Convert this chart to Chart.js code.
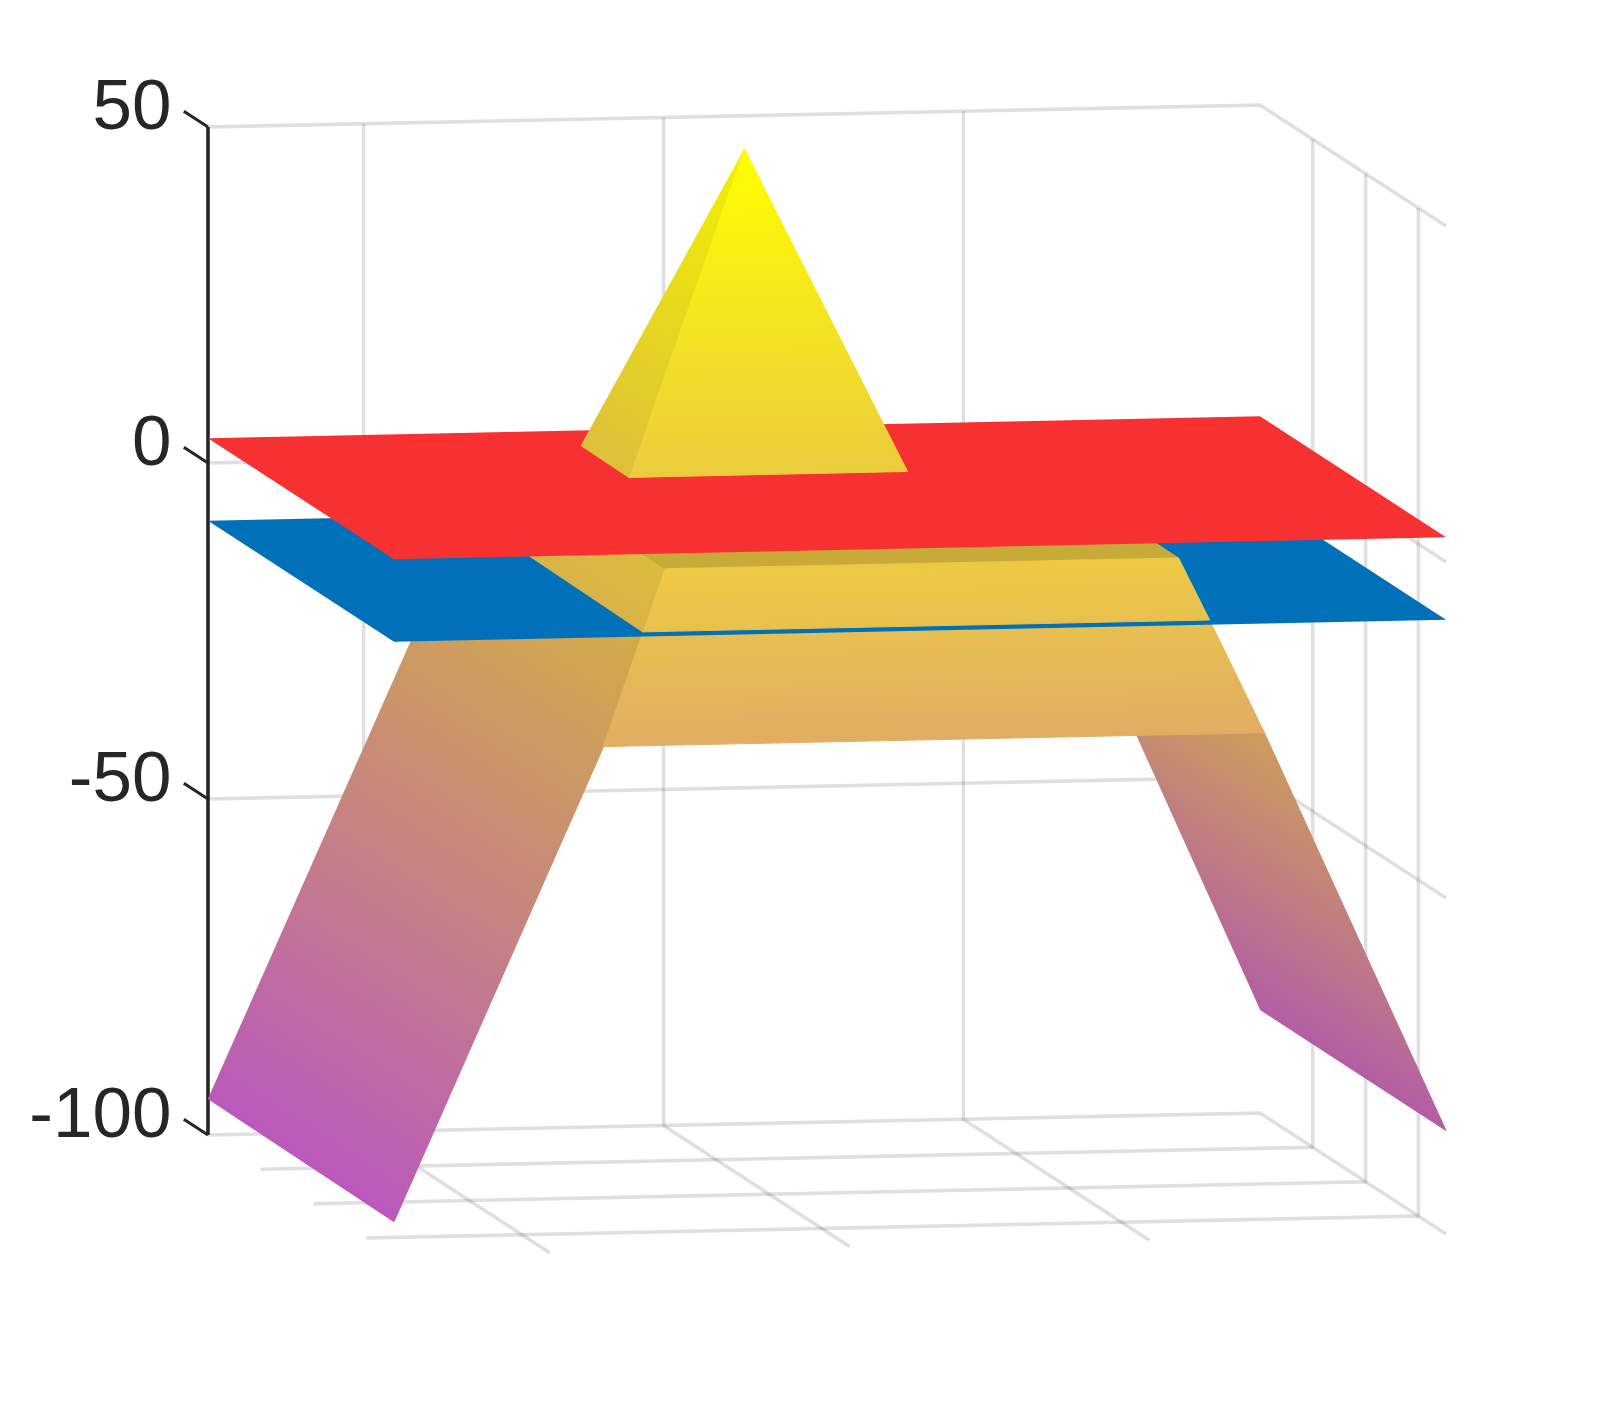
<!DOCTYPE html>
<html>
<head>
<meta charset="utf-8">
<title>surface</title>
<script src="https://cdn.jsdelivr.net/npm/chart.js@4/dist/chart.umd.js"></script>
<style>
  html, body { margin: 0; padding: 0; background: #fff; }
  canvas { display: block; }
</style>
</head>
<body>
<canvas id="chart" width="1598" height="1410"></canvas>
<script>
// tick values. u runs along the wide axis, v along the depth axis, both 0-100
const zTicks = [-100, -50, 0, 50];
const uTicks = [14.8, 43.3, 71.8];
const vTicks = [28.3, 56.8, 85.1];

// surface faces, each vertex is [u, v, z]
const legRight = [[100, 0, -84.6], [100, 100, -84.6], [82.6, 100.8, -24.7], [82.9, 0, -24.7]];
const legLeft = [[0, 0, -94.6], [0, 100, -94.9], [24.55, 100, -8.6], [24.55, 0, -8.6]];
const bandLower = [[24.3, 96.2, -8.6], [78.2, 96.2, -8.6], [82.6, 100.8, -24.7], [19.7, 100.8, -24.7]];
const bluePlane = [[0, 0, -8.6], [100, 0, -8.6], [100, 100, -8.6], [0, 100, -8.6]];
const bandSide = [[24.6, 34, -8.6], [24.3, 96.2, -8.6], [26.84, 93.66, 0.25], [26.84, 34, 0.25]];
const bandTop = [[26.84, 30, 0.25], [75.7, 30, 0.25], [75.7, 93.66, 0.25], [26.84, 93.66, 0.25]];
const bandUpper = [[24.3, 96.2, -8.6], [78.2, 96.2, -8.6], [75.7, 93.66, 0.25], [26.84, 93.66, 0.25]];
const redPlane = [[0, 0, 3.7], [100, 0, 3.7], [100, 100, 3.7], [0, 100, 3.7]];
const pyramidLeft = [[33.3, 12.1, 3.7], [33.2, 38.5, 3.7], [46.5, 25.3, 49.8]];
const pyramidFront = [[33.2, 38.5, 3.7], [59.7, 38.4, 3.7], [46.5, 25.3, 49.8]];

// colour map ends, z -> rgb
const colorZ = [-94.6, 50];
const colorLow = [188, 90, 190];
const colorHigh = [255, 255, 0];

const GRID = 'rgba(38,38,38,0.15)';
const INK = '#262626';

// view of the box: oblique, shear of v into x and of u,v into z units
const SHEAR_X = 1.86 / 10.52;
const SHEAR_U = 0.22 / 6.72;
const SHEAR_V = -1.21 / 6.72;

function project(p) {
  return { x: p[0] + SHEAR_X * p[1], y: p[2] + SHEAR_U * p[0] + SHEAR_V * p[1] };
}

function colorAt(z, shade) {
  const t = Math.max(0, Math.min(1, (z - colorZ[0]) / (colorZ[1] - colorZ[0])));
  const c = colorLow.map((low, i) => Math.min(255, Math.round((low + (colorHigh[i] - low) * t) * shade)));
  return 'rgb(' + c.join(',') + ')';
}

// gradient along the direction z grows on screen, so colour follows height
function faceGradient(chart, face, shadeLow, shadeHigh) {
  const sx = chart.scales.x, sy = chart.scales.y;
  if (!chart.chartArea) return colorAt(face[0][2], shadeLow);
  const pts = face.map(p => {
    const q = project(p);
    return { x: sx.getPixelForValue(q.x), y: sy.getPixelForValue(q.y), z: p[2] };
  });
  const [a, b, c] = pts;
  const det = (b.x - a.x) * (c.y - a.y) - (c.x - a.x) * (b.y - a.y);
  const gx = ((b.z - a.z) * (c.y - a.y) - (c.z - a.z) * (b.y - a.y)) / det;
  const gy = ((b.x - a.x) * (c.z - a.z) - (c.x - a.x) * (b.z - a.z)) / det;
  const len = gx * gx + gy * gy;
  if (len < 1e-9) return colorAt(a.z, shadeLow);
  const lo = pts.reduce((m, p) => (p.z < m.z ? p : m));
  const hi = pts.reduce((m, p) => (p.z > m.z ? p : m));
  const dz = (hi.z - lo.z) / len;
  const g = chart.ctx.createLinearGradient(lo.x, lo.y, lo.x + gx * dz, lo.y + gy * dz);
  g.addColorStop(0, colorAt(lo.z, shadeLow));
  g.addColorStop(1, colorAt(hi.z, shadeHigh));
  return g;
}

function lineSet(points, color, width) {
  return {
    data: points.map(project),
    showLine: true,
    fill: false,
    borderColor: color,
    borderWidth: width,
    pointRadius: 0,
    tension: 0,
    clip: false
  };
}

function faceSet(points, background) {
  return {
    data: points.map(project),
    showLine: true,
    fill: 'shape',
    backgroundColor: background,
    borderWidth: 0,
    pointRadius: 0,
    tension: 0,
    clip: false
  };
}

function shaded(face, shadeLow, shadeHigh) {
  const paint = ctx => faceGradient(ctx.chart, face, shadeLow, shadeHigh === undefined ? shadeLow : shadeHigh);
  const set = faceSet(face, paint);
  // hairline in the same paint closes the seams between faces
  set.borderColor = paint;
  set.borderWidth = 1;
  return set;
}

const datasets = [];

// grid first, it sits behind everything
zTicks.forEach(z => {
  datasets.push(lineSet([[0, 0, z], [100, 0, z], [100, 100, z]], GRID, 3.4));
});
uTicks.forEach(u => {
  datasets.push(lineSet([[u, 0, 50], [u, 0, -100], [u, 100, -100]], GRID, 3.4));
});
vTicks.forEach(v => {
  datasets.push(lineSet([[100, v, 50], [100, v, -100], [0, v, -100]], GRID, 3.4));
});

// axis line and the slanted ticks
datasets.push(lineSet([[0, 0, -100], [0, 0, 50]], INK, 3.6));
zTicks.forEach(z => {
  datasets.push(lineSet([[0, 0, z], [0, -13, z]], INK, 3));
});

// surfaces, back to front
datasets.push(shaded(legRight, 0.93));
datasets.push(shaded(legLeft, 0.99, 0.92));
datasets.push(shaded(bandLower, 1.02));
datasets.push(faceSet(bluePlane, '#0071b9'));
datasets.push(shaded(bandSide, 0.95));
datasets.push(shaded(bandTop, 0.86));
datasets.push(shaded(bandUpper, 1.02));
datasets.push(faceSet(redPlane, '#f73131'));
datasets.push(shaded(pyramidLeft, 0.95));
datasets.push(shaded(pyramidFront, 1.01));

// first dataset has to be painted first
datasets.forEach((d, i) => { d.order = datasets.length - i; });

new Chart(document.getElementById('chart'), {
  type: 'scatter',
  data: { datasets: datasets },
  options: {
    responsive: false,
    animation: false,
    events: [],
    layout: { padding: { top: 59.8, bottom: 140.6, left: 0, right: 138.1 } },
    plugins: { legend: { display: false }, tooltip: { enabled: false } },
    scales: {
      x: { type: 'linear', min: -3, max: 119, display: false },
      y: {
        type: 'linear',
        min: -120,
        max: 60,
        grid: { display: false },
        border: { display: false },
        afterFit: scale => { scale.width = 176.44; },
        afterBuildTicks: scale => { scale.ticks = zTicks.map(v => ({ value: v })); },
        ticks: {
          padding: -3,
          labelOffset: -18,
          color: INK,
          font: { family: '"Liberation Sans", Arial, sans-serif', size: 71 }
        }
      }
    }
  }
});
</script>
</body>
</html>
